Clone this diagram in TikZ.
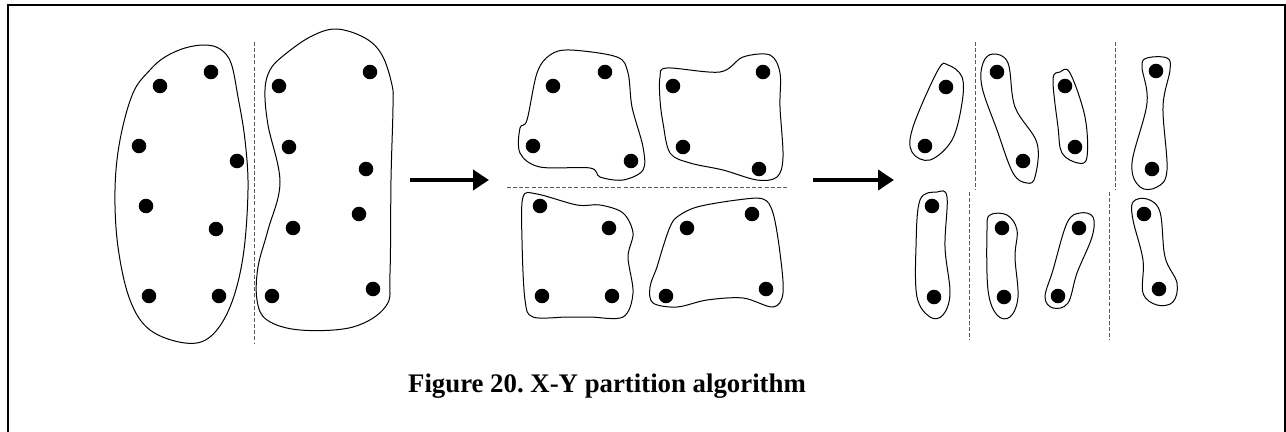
\documentclass[tikz,border=0pt]{standalone}
\usepackage{fontspec}
\setmainfont{Liberation Serif}
\usetikzlibrary{arrows.meta}
\tikzset{
  px/.style={x=0.75pt,y=-0.75pt},
  dotn/.style={circle,fill=black,inner sep=0pt,minimum size=10.9pt},
  blob/.style={draw=black,line width=0.75pt},
  cut/.style={draw=black!65,line width=0.75pt,dash pattern=on 3pt off 1.6pt},
  flow/.style={line width=3pt,-{Triangle[length=12pt,width=15pt]}},
  frame/.style={line width=1.6pt}
}
\begin{document}
\frenchspacing
\begin{tikzpicture}[px]
\useasboundingbox (0,0) rectangle (1286,432);
\clip (0,0) rectangle (1286,432);
\draw[frame] (8,500) -- (8,5) -- (1285,5) -- (1285,500);

% ---------- stage 1 ----------
\draw[blob] plot[smooth cycle,tension=0.6] coordinates {(205,45) (220,49) (231,63) (238,97) (245,140) (248,190) (243,257) (230,307) (210,337) (185,343) (150,330) (130,300) (118,247) (115,190) (120,140) (133,93) (150,70) (165,57) (185,48)};
\draw[blob] plot[smooth cycle,tension=0.6] coordinates {(336,29) (365,38) (382,55) (392,85) (393,107) (391,180) (390,273) (386,306) (353,327) (300,330) (267,320) (257,300) (258,267) (268,230) (280,182) (268,125) (265,90) (270,70) (283,56) (310,37)};
\draw[cut] (254,42) -- (254,343);
\foreach \n/\x/\y in {a/160/86, b/211/72, c/139/146, d/237/161, e/146/206, f/216/229, g/149/296, h/219/296,
  i/279/86, j/370/72, k/289/147, l/366/169, m/359/214, n/293/228, o/272/296, p/373/289}
  \node[dotn] (s1\n) at (\x,\y) {};

% ---------- arrows ----------
\coordinate (ar1s) at (410,180);
\coordinate (ar1e) at (489,180);
\coordinate (ar2s) at (813,180);
\coordinate (ar2e) at (894,180);
\draw[flow] (ar1s) -- (ar1e);
\draw[flow] (ar2s) -- (ar2e);

% ---------- stage 2 ----------
\draw[blob] plot[smooth cycle,tension=0.55] coordinates {(570,50) (617,57) (628,73) (632,107) (643,147) (643,170) (623,180) (600,177) (590,168) (540,167) (520,153) (520,128) (527,120) (537,73) (550,55)};
\draw[blob] plot[smooth cycle,tension=0.55] coordinates {(667,68) (720,72) (743,57) (770,55) (780,73) (780,107) (783,157) (777,177) (757,180) (723,170) (690,163) (670,153) (663,123) (660,100) (660,77)};
\draw[blob] plot[smooth cycle,tension=0.55] coordinates {(523,197) (537,194) (577,205) (600,205) (623,213) (633,233) (628,257) (633,293) (623,317) (590,317) (567,317) (533,317) (525,300) (522,240)};
\draw[blob] plot[smooth cycle,tension=0.55] coordinates {(677,217) (697,207) (737,200) (763,199) (773,213) (780,253) (783,293) (773,307) (743,298) (707,300) (677,307) (653,303) (650,287) (657,267) (663,247) (670,227)};
\draw[cut] (507,187) -- (788,187);
\foreach \n/\x/\y in {a/553/86, b/605/72, c/533/146, d/631/161, e/673/86, f/763/72, g/683/147, h/759/169,
  i/540/206, j/609/228, k/542/296, l/612/296, m/687/228, n/752/214, o/666/296, p/766/289}
  \node[dotn] (s2\n) at (\x,\y) {};

% ---------- stage 3 ----------
\draw[blob] plot[smooth cycle,tension=0.6] coordinates {(948,65) (962,77) (962,103) (952,140) (930,160) (912,152) (913,127) (938,70)};
\draw[blob] plot[smooth cycle,tension=0.6] coordinates {(993,54) (1008,63) (1015,107) (1037,143) (1035,177) (1027,183) (1013,173) (997,130) (982,87) (983,63)};
\draw[blob] plot[smooth cycle,tension=0.6] coordinates {(1060,72) (1070,73) (1085,117) (1087,157) (1078,163) (1062,153) (1058,127) (1053,80)};
\draw[blob] plot[smooth cycle,tension=0.6] coordinates {(1147,58) (1167,58) (1170,70) (1163,107) (1167,170) (1157,187) (1140,187) (1132,163) (1147,103) (1142,67)};
\draw[blob] plot[smooth cycle,tension=0.6] coordinates {(937,192) (947,197) (945,247) (950,293) (943,315) (930,317) (917,297) (916,247) (920,200)};
\draw[blob] plot[smooth cycle,tension=0.6] coordinates {(990,215) (1007,215) (1017,230) (1015,257) (1018,297) (1010,317) (997,315) (988,290) (987,230)};
\draw[blob] plot[smooth cycle,tension=0.6] coordinates {(1080,213) (1093,217) (1092,237) (1077,273) (1068,303) (1053,308) (1045,297) (1053,270) (1067,223)};
\draw[blob] plot[smooth cycle,tension=0.6] coordinates {(1133,202) (1147,199) (1160,212) (1165,257) (1177,283) (1173,302) (1157,305) (1143,293) (1143,260) (1133,220)};
\draw[cut] (975,42) -- (975,190);
\draw[cut] (1115,42) -- (1115,190);
\draw[cut] (969,192) -- (969,340);
\draw[cut] (1109,192) -- (1109,340);
\foreach \n/\x/\y in {a/946/87, b/925/146, c/997/72, d/1023/161, e/1065/86, f/1075/147, g/1156/71, h/1152/169,
  i/932/206, j/934/297, k/1002/228, l/1004/297, m/1079/228, n/1058/296, o/1144/214, p/1159/289}
  \node[dotn] (s3\n) at (\x,\y) {};

% ---------- caption ----------
\node[anchor=base,font=\fontsize{20.1}{24}\selectfont\bfseries,inner sep=0pt] (cap) at (607,392) {Figure 20. X-Y partition algorithm};
\end{tikzpicture}
\end{document}
